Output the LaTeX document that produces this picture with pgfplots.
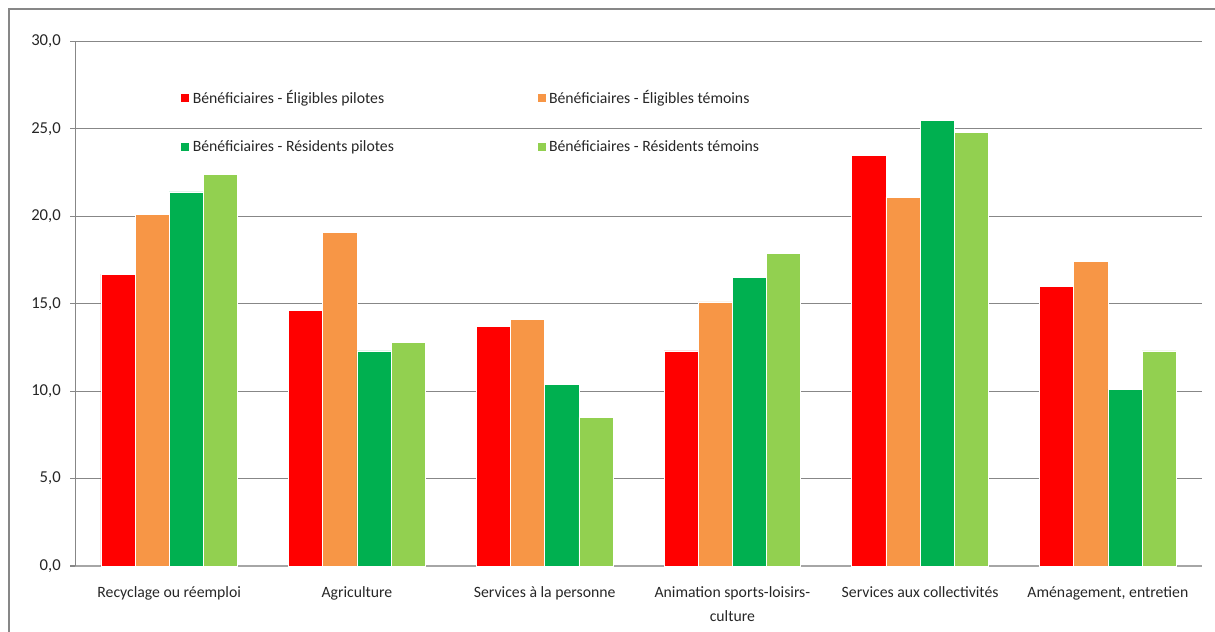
\documentclass[border=0pt]{standalone}
\usepackage{pgfplots}
\pgfplotsset{compat=1.18}
\usepackage{fontspec}
\setmainfont{Carlito}

\definecolor{cRed}{HTML}{FF0000}
\definecolor{cOrange}{HTML}{F79646}
\definecolor{cDGreen}{HTML}{00B050}
\definecolor{cLGreen}{HTML}{92D050}
\definecolor{gridgray}{HTML}{878787}
\definecolor{axisgray}{HTML}{A6A6A6}
\definecolor{txt}{HTML}{262626}

\begin{document}
\fontsize{11.8pt}{15pt}\selectfont
\begin{tikzpicture}
  % page area and outer frame
  \path[use as bounding box] (0,0) rectangle (911.25pt,-474pt);
  \draw[gridgray, line width=1.4pt] (6.75pt,-480pt) -- (6.75pt,-6.75pt) -- (920pt,-6.75pt);

  \begin{axis}[
    at={(56.5pt,-424.5pt)}, anchor=south west,
    scale only axis, width=844.8pt, height=393.4pt,
    xmin=-0.5, xmax=5.5, ymin=0, ymax=30,
    axis lines*=left,
    axis line style={axisgray, line width=1.2pt},
    ytick={0,5,...,30},
    ymajorgrids, grid style={gridgray, line width=0.9pt},
    y axis line style={gridgray, line width=0.9pt},
    tick align=outside,
    major tick length=3.8pt,
    tick style={gridgray, line width=0.9pt},
    /pgf/number format/.cd, fixed, fixed zerofill, precision=1, use comma, assume math mode=true,
    /pgfplots/.cd,
    yticklabel style={font=\fontsize{12.5pt}{15pt}\selectfont, text=txt, xshift=-3pt},
    xtick={0,...,5},
    xticklabels={Recyclage ou réemploi, Agriculture, Services à la personne,
                 {Animation sports-loisirs-\\culture}, Services aux collectivités,
                 {Aménagement, entretien}},
    xtick style={draw=none},
    xticklabel style={align=center, font=\fontsize{11.8pt}{18pt}\selectfont, text=txt, yshift=-7.5pt},
    extra x ticks={-0.5,0.5,1.5,2.5,3.5,4.5,5.5},
    extra x tick labels={},
    extra x tick style={grid=none, tick style={axisgray, line width=0.9pt}, major tick length=4pt},
    bar width=0.182,
    every axis plot/.append style={ybar, draw=white, line width=0.5pt},
    legend columns=2,
    legend cell align=left,
    legend style={draw=none, fill=none, at={(0.093,0.913)}, anchor=north west,
      inner sep=0pt, font=\fontsize{11.8pt}{15pt}\selectfont, text=txt,
      /tikz/every even column/.append style={column sep=105pt},
      row sep=22pt},
    legend image code/.code={\fill[#1] (0pt,-3.5pt) rectangle (6.8pt,3.5pt);},
  ]
    % Bénéficiaires - Éligibles pilotes
    \addplot[fill=cRed, bar shift=-0.273] coordinates
      {(0,16.7) (1,14.6) (2,13.7) (3,12.3) (4,23.5) (5,16.0)};
    % Bénéficiaires - Éligibles témoins
    \addplot[fill=cOrange, bar shift=-0.091] coordinates
      {(0,20.1) (1,19.1) (2,14.1) (3,15.1) (4,21.1) (5,17.4)};
    % Bénéficiaires - Résidents pilotes
    \addplot[fill=cDGreen, bar shift=0.091] coordinates
      {(0,21.4) (1,12.3) (2,10.4) (3,16.5) (4,25.5) (5,10.1)};
    % Bénéficiaires - Résidents témoins
    \addplot[fill=cLGreen, bar shift=0.273] coordinates
      {(0,22.4) (1,12.8) (2,8.5) (3,17.9) (4,24.8) (5,12.3)};
    \legend{Bénéficiaires - Éligibles pilotes, Bénéficiaires - Éligibles témoins,
            Bénéficiaires - Résidents pilotes, Bénéficiaires - Résidents témoins}
  \end{axis}
\end{tikzpicture}
\end{document}
